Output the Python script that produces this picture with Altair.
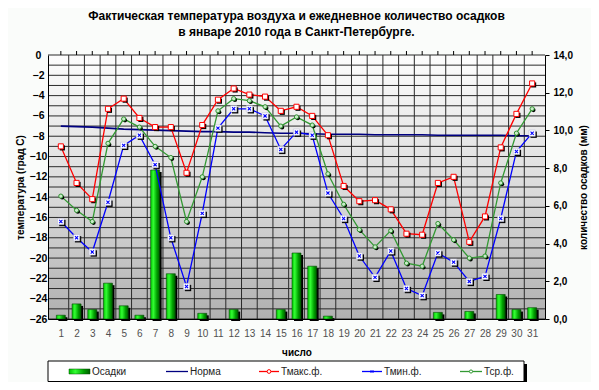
import altair as alt
import pandas as pd

# ---------------- data ----------------
days = list(range(1, 32))
t_max = [-9.0, -12.6, -14.2, -5.3, -4.3, -6.2, -7.1, -7.1, -11.6, -6.9,
         -4.4, -3.3, -3.9, -4.1, -5.5, -5.1, -6.0, -7.9, -12.9, -14.4,
         -14.3, -15.2, -17.6, -17.7, -12.6, -12.0, -18.4, -15.9, -9.1, -5.8, -2.8]
t_min = [-16.4, -18.0, -19.4, -14.5, -8.9, -7.9, -10.8, -18.0, -22.8, -15.6,
         -7.2, -5.3, -5.3, -6.0, -9.3, -7.6, -7.9, -13.6, -16.1, -19.8,
         -21.9, -19.3, -23.0, -23.7, -19.5, -20.4, -22.3, -21.8, -16.1, -9.5, -7.7]
t_avg = [-13.9, -15.3, -16.4, -8.7, -6.3, -7.1, -9.0, -10.1, -16.4, -12.0,
         -5.5, -4.3, -4.5, -5.1, -7.0, -6.1, -6.9, -11.7, -14.7, -17.2,
         -18.9, -17.3, -20.5, -20.8, -16.6, -18.2, -20.0, -19.8, -12.6, -7.7, -5.3]
norma = [-7.0, -7.05, -7.1, -7.2, -7.3, -7.35, -7.4, -7.45, -7.5, -7.55,
         -7.55, -7.6, -7.6, -7.65, -7.7, -7.7, -7.75, -7.8, -7.8, -7.8,
         -7.85, -7.85, -7.85, -7.85, -7.9, -7.9, -7.9, -7.9, -7.9, -7.95, -7.95]
precip = [0.2, 0.8, 0.5, 1.9, 0.7, 0.2, 7.9, 2.4, 0.0, 0.3,
          0.0, 0.5, 0.0, 0.0, 0.5, 3.5, 2.8, 0.15, 0.0, 0.0,
          0.0, 0.0, 0.0, 0.0, 0.35, 0.0, 0.4, 0.0, 1.3, 0.5, 0.6]

title_lines = ["Фактическая температура воздуха и ежедневное количество осадков",
               "в январе 2010 года в Санкт-Петербурге."]
leg_names = ["Осадки", "Норма", "Тмакс.ф.", "Тмин.ф.", "Тср.ф."]
leg_cols = ["#00b000", "#000080", "#ff0000", "#0000ff", "#339933"]

# gridline positions
grid_temps = list(range(-26, 1))
grid_days = [d + 0.5 for d in range(1, 31)]

# ---------------- layout ----------------
W, H = 497, 264
FONT = "Liberation Sans"
leg_x0 = [21, 118, 211, 314, 412]
leg_x1 = [42, 140, 231, 334, 434]
LEG_Y = 316.5

df = pd.DataFrame({"day": days, "tmax": t_max, "tmin": t_min, "tavg": t_avg,
                   "norma": norma, "precip": precip})
df_rain = df[df["precip"] > 0]
one = pd.DataFrame({"k": [0]})
leg_df = pd.DataFrame({"name": leg_names, "x0": leg_x0, "x1": leg_x1, "col": leg_cols})
leg_df["xm"] = (leg_df["x0"] + leg_df["x1"]) / 2
leg_df["xt"] = leg_df["x1"] + 2

xs = alt.Scale(domain=[0.5, 31.5], nice=False, zero=False)
yl = alt.Scale(domain=[-26, 0], nice=False, zero=False)
yr = alt.Scale(domain=[0, 14], nice=False, zero=True)

# ---------------- axes (same object in every layer that shares them) ----------------
x_axis = alt.Axis(orient="bottom", values=days, ticks=False, labelFontSize=10,
                  labelColor="#505050", labelPadding=9, labelFlush=False,
                  labelOverlap=False, grid=False, domainColor="black",
                  title="число", titleFontSize=10, titleFontWeight="bold",
                  titleColor="black", titleY=33, titleBaseline="middle", zindex=1)
left_axis = alt.Axis(orient="left", values=list(range(-26, 1, 2)),
                     labelFontSize=10.5, labelFontWeight="bold", labelColor="black",
                     labelAlign="center", labelPadding=10, ticks=False,
                     domainColor="black", grid=False, labelFlush=False,
                     title="температура (град С)", titleFontSize=10,
                     titleFontWeight="bold", titleColor="black", titleAngle=270,
                     titleX=-28, titleY=H / 2, titleAlign="center",
                     titleBaseline="middle", zindex=1)
right_axis = alt.Axis(orient="right", values=list(range(0, 15, 2)),
                      labelExpr="replace(format(datum.value, '.1f'), '.', ',')",
                      labelFontSize=10, labelFontWeight="bold", labelColor="black",
                      tickSize=4, tickColor="black", labelPadding=4,
                      domainColor="black", grid=False, labelFlush=False,
                      title="количество осадков (мм)", titleFontSize=10,
                      titleFontWeight="bold", titleColor="black", titleAngle=270,
                      titleX=38, titleY=H / 2, titleAlign="center",
                      titleBaseline="middle", zindex=1)

XD = alt.X("day:Q", scale=xs, axis=x_axis)

bg_grad = alt.Gradient(gradient="linear",
                       stops=[alt.GradientStop(color="#fdfdfd", offset=0),
                              alt.GradientStop(color="#d8d8d8", offset=0.55),
                              alt.GradientStop(color="#b0b0b0", offset=1)],
                       x1=0, x2=0, y1=0, y2=1)
bar_grad = alt.Gradient(gradient="linear",
                        stops=[alt.GradientStop(color="#00c000", offset=0),
                               alt.GradientStop(color="#33ff33", offset=0.3),
                               alt.GradientStop(color="#00a000", offset=0.7),
                               alt.GradientStop(color="#005a00", offset=1)],
                        x1=0, x2=1, y1=0, y2=0)

# ---------------- base: background + grid ----------------
bg = alt.Chart(one).mark_rect(color=bg_grad).encode(
    x=alt.value(0), x2=alt.value(W), y=alt.value(0), y2=alt.value(H))
hgrid = alt.Chart(pd.DataFrame({"v": grid_temps})).mark_rule(
    color="#2a2a2a", strokeWidth=1).encode(y=alt.Y("v:Q", scale=yl, axis=None))
vgrid = alt.Chart(pd.DataFrame({"b": grid_days})).mark_rule(
    color="#2a2a2a", strokeWidth=1).encode(x=alt.X("b:Q", scale=xs, axis=x_axis))
topticks = alt.Chart(df).mark_rule(color="black").encode(
    x=XD, y=alt.value(-4), y2=alt.value(0))
base = alt.layer(bg, hgrid, vgrid, topticks)

# ---------------- bars (right axis) ----------------
YR = alt.Y("precip:Q", scale=yr, axis=right_axis)
bars_sh = alt.Chart(df_rain).mark_bar(size=9, color="black", xOffset=2, yOffset=2).encode(
    x=XD, y=YR)
bars = alt.Chart(df_rain).mark_bar(size=9, color=bar_grad, stroke="#004d00",
                                   strokeWidth=0.6).encode(x=XD, y=YR)
bars_layer = alt.layer(bars_sh, bars)

# ---------------- temperature lines (left axis) ----------------
def YL(field):
    return alt.Y(f"{field}:Q", scale=yl, axis=left_axis)


norma_line = alt.Chart(df).mark_line(color="#000080", strokeWidth=1.6).encode(
    x=XD, y=YL("norma"))


def line(field, color):
    return alt.Chart(df).mark_line(color=color, strokeWidth=1.3).encode(x=XD, y=YL(field))


def pts(field, **kw):
    return alt.Chart(df).mark_point(opacity=1, **kw).encode(x=XD, y=YL(field))


XPATH = "M-1,-1L1,1M-1,1L1,-1"

tmax_layers = [
    line("tmax", "#ff0000"),
    pts("tmax", shape="square", filled=True, color="black", size=26, xOffset=1.5, yOffset=1.5),
    pts("tmax", shape="square", filled=True, fill="white", stroke="#ff0000", strokeWidth=1, size=26),
]
tmin_layers = [
    line("tmin", "#0000ff"),
    pts("tmin", shape="square", filled=True, color="black", size=40, xOffset=1.5, yOffset=1.5),
    pts("tmin", shape="square", filled=True, fill="white", stroke="#b0b0d0", strokeWidth=0.5, size=40),
    pts("tmin", shape=XPATH, filled=False, color="#0000ff", strokeWidth=1.1, size=10),
]
tavg_layers = [
    line("tavg", "#339933"),
    pts("tavg", shape="circle", filled=True, color="black", size=18, xOffset=1.3, yOffset=1.3),
    pts("tavg", shape="circle", filled=True, fill="#c8ecc8", stroke="#2f8f2f", strokeWidth=1, size=18),
]
lines_layer = alt.layer(norma_line, *tmax_layers, *tmin_layers, *tavg_layers)

# ---------------- legend ----------------
LX = alt.X("x0:Q", scale=None, axis=None)
leg_shadow = alt.Chart(one).mark_rect(color="black").encode(
    x=alt.value(3), x2=alt.value(479), y=alt.value(309), y2=alt.value(330))
leg_box = alt.Chart(one).mark_rect(fill="white", stroke="black", strokeWidth=1).encode(
    x=alt.value(0), x2=alt.value(476), y=alt.value(306), y2=alt.value(326.5))
leg_bar = alt.Chart(leg_df).transform_filter(alt.datum.name == "Осадки").mark_rect(
    color=bar_grad, stroke="#004d00", strokeWidth=0.5).encode(
    x=LX, x2="x1:Q", y=alt.value(LEG_Y - 2.5), y2=alt.value(LEG_Y + 2.5))
leg_lines = alt.Chart(leg_df).transform_filter(alt.datum.name != "Осадки").mark_rule(
    strokeWidth=1.3).encode(
    x=LX, x2="x1:Q", y=alt.value(LEG_Y), color=alt.Color("col:N", scale=None))


def leg_pt(name, **kw):
    return alt.Chart(leg_df).transform_filter(alt.datum.name == name).mark_point(
        opacity=1, **kw).encode(x=alt.X("xm:Q", scale=None, axis=None), y=alt.value(LEG_Y))


leg_marks = [
    leg_pt("Тмакс.ф.", shape="circle", filled=True, fill="white", stroke="#ff0000", strokeWidth=1, size=14),
    leg_pt("Тмин.ф.", shape=XPATH, filled=False, color="#0000ff", strokeWidth=1, size=8),
    leg_pt("Тср.ф.", shape="circle", filled=True, fill="white", stroke="#339933", strokeWidth=1, size=10),
]
leg_text = alt.Chart(leg_df).mark_text(align="left", baseline="middle", fontSize=10,
                                       font=FONT, color="#222222").encode(
    x=alt.X("xt:Q", scale=None, axis=None), y=alt.value(LEG_Y), text="name:N")
legend_layer = alt.layer(leg_shadow, leg_box, leg_bar, leg_lines, *leg_marks, leg_text)

# ---------------- compose ----------------
chart = alt.layer(base, bars_layer, lines_layer, legend_layer).resolve_scale(
    y="independent"
).properties(
    width=W, height=H,
    title=alt.TitleParams(text=title_lines, font=FONT, fontSize=12, fontWeight="bold",
                          color="black", anchor="middle", offset=11, lineHeight=16),
    padding={"left": 40, "top": 47, "right": 46, "bottom": 63},
    autosize=alt.AutoSizeParams(type="none"),
    background="#fafcfa",
).configure_view(stroke=None).configure_axis(labelFont=FONT, titleFont=FONT)

chart.save("out.html", embed_options={"renderer": "svg", "actions": False})
